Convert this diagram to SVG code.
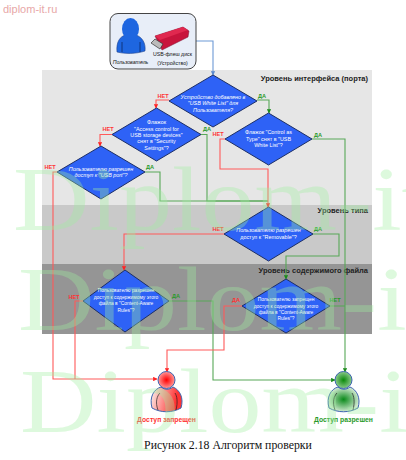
<svg xmlns="http://www.w3.org/2000/svg" width="406" height="460" viewBox="0 0 406 460">
<style>
text{font-family:"Liberation Sans",Arial,sans-serif}
.d{fill:#2e62f6;stroke:#1d2f66;stroke-width:1}
.t{fill:#fff;font-size:5.4px;text-anchor:middle}
.s{font-size:4.900px}
.i{font-style:italic}
.lvl{font-size:7.500px;font-weight:bold;fill:#222;text-anchor:end}
.r{fill:none;stroke:#ff5a5a;stroke-width:1.1}
.g{fill:none;stroke:#58a858;stroke-width:1.1}
.lr{fill:#f33;font-size:5.6px;text-anchor:middle;font-weight:bold}
.lg{fill:#2a9a2a;font-size:5.6px;text-anchor:middle;font-weight:bold}
.wm{font-family:"Liberation Serif",serif;font-size:106px;fill:#a0f0a0;opacity:.35}
</style>
<defs>
<marker id="ar" markerWidth="4" markerHeight="4" refX="3.5" refY="2" orient="auto"><path d="M0 0L4 2L0 4Z" fill="#f22"/></marker>
<marker id="ag" markerWidth="4" markerHeight="4" refX="3.5" refY="2" orient="auto"><path d="M0 0L4 2L0 4Z" fill="#1a8a1a"/></marker>
<marker id="ab" markerWidth="4" markerHeight="4" refX="3.5" refY="2" orient="auto"><path d="M0 0L4 2L0 4Z" fill="#5a8ad0"/></marker>
<radialGradient id="rh"><stop offset="0" stop-color="#f00"/><stop offset="1" stop-color="#ff9a9a"/></radialGradient>
<radialGradient id="gh"><stop offset="0" stop-color="#0a8a0a"/><stop offset="1" stop-color="#8cc98c"/></radialGradient>
<linearGradient id="rb" x1="1" y1="0.6" x2="0" y2="0.4"><stop offset="0.2" stop-color="#f33"/><stop offset="1" stop-color="#fbe4e0"/></linearGradient>
<radialGradient id="gb"><stop offset="0" stop-color="#0a8a1a"/><stop offset="1" stop-color="#cfe8cf"/></radialGradient>
</defs>
<rect x="42" y="70" width="330" height="135" fill="#e6e6e6"/>
<rect x="42" y="205" width="330" height="59" fill="#c9c9c9"/>
<rect x="42" y="264" width="330" height="70" fill="#959595"/>
<text class="lvl" x="368" y="81">Уровень интерфейса (порта)</text>
<text class="lvl" x="368" y="213">Уровень типа</text>
<text class="lvl" x="368" y="273">Уровень содержимого файла</text>
<g id="connectors">
<path d="M196 41H213V75" fill="none" stroke="#6d9ad6" stroke-width="1.1" marker-end="url(#ab)"/>
<path class="r" d="M169 100H156V108" marker-end="url(#ar)"/>
<path class="g" d="M257 100H269V113" marker-end="url(#ag)"/>
<path class="r" d="M112 134.500H100V146" marker-end="url(#ar)"/>
<path class="g" d="M201 134.500H207V201H268"/>
<path class="g" d="M145 172H160V201H268"/>
<path class="r" d="M57 172H53V379H157" marker-end="url(#ar)"/>
<path class="r" d="M225 139H220V169H268V207" marker-end="url(#ar)"/>
<path class="g" d="M312 139H345V372" marker-end="url(#ag)"/>
<path class="r" d="M224 234H124V270" marker-end="url(#ar)"/>
<path class="g" d="M313 234H339V256H286V279" marker-end="url(#ag)"/>
<path class="r" d="M83 301H75V379"/>
<path class="g" d="M169 301H213V380H335" marker-end="url(#ag)"/>
<path class="r" d="M242 306H224V350H167V372" marker-end="url(#ar)"/>
<path class="g" d="M330 306H345"/>
</g>
<g id="source">
<rect x="110" y="13.500" width="86" height="55.500" rx="8" fill="#e8eef8" stroke="#444" stroke-width="1"/>
<path d="M117 52C116 42 120 36 126 35C129 38 133 38 136 35C142 37 146 43 145 51C136 54 125 54 117 52Z" fill="#1e66e0" stroke="#1d3f8c" stroke-width=".6"/>
<ellipse cx="130.500" cy="29" rx="8.500" ry="11" fill="#1e66e0"/>
<path d="M122 52V42M140 52V42" stroke="#0b2a66" stroke-width=".8" fill="none"/>
<path d="M155 36L183 27L189 31L188 37L162 50Z" fill="#c8143c" stroke="#7a1030" stroke-width=".5"/>
<path d="M155 36L183 27L188 30L160 40Z" fill="#e0284f"/>
<path d="M151 43L155 39L163 44L160 49Z" fill="#bbb" stroke="#333" stroke-width=".7"/>
<text x="130.500" y="64" font-size="5.200" font-style="italic" text-anchor="middle" fill="#111">Пользователь</text>
<text x="172.500" y="56" font-size="5.200" text-anchor="middle" fill="#111">USB-флеш диск</text>
<text x="172.500" y="65" font-size="5.200" text-anchor="middle" fill="#111">(Устройство)</text>
</g>
<g id="d1"><path class="d" d="M213 75L257 101L213 127L169 101Z"/><text class="t i" x="213" y="99">Устройство добавлено в</text><text class="t i" x="213" y="105">"USB White List" для</text><text class="t i" x="213" y="112">Пользователя?</text></g>
<g id="d2"><path class="d" d="M156.500 108L201 134.500L156.500 161L112 134.500Z"/><text class="t" x="156.500" y="124">Флажок</text><text class="t" x="156.500" y="131">"Access control for</text><text class="t" x="156.500" y="137">USB storage devices"</text><text class="t" x="156.500" y="143">снят в "Security</text><text class="t" x="156.500" y="150">Settings"?</text></g>
<g id="d3"><path class="d" d="M101 146L145 172L101 199L57 172Z"/><text class="t i" x="101" y="171">Пользователю разрешен</text><text class="t i" x="101" y="177">доступ к "USB port"?</text></g>
<g id="d4"><path class="d" d="M268.500 113L312 139L268.500 165L225 139Z"/><text class="t" x="268.500" y="134">Флажок "Control as</text><text class="t" x="268.500" y="141">Type" снят в "USB</text><text class="t" x="268.500" y="147">White List"?</text></g>
<g id="d5"><path class="d" d="M268.500 207L313 234L268.500 261L224 234Z"/><text class="t i" x="268.500" y="232">Пользователю разрешен</text><text class="t" x="268.500" y="239">доступ к "Removable"?</text></g>
<g id="d6"><path class="d" d="M125 270L169 301L125 332L83 301Z"/><text class="t s" x="126" y="292">Пользователю разрешен</text><text class="t s" x="126" y="299">доступ к содержимому этого</text><text class="t s" x="126" y="305">файла в "Content-Aware</text><text class="t s" x="126" y="312">Rules"?</text></g>
<g id="d7"><path class="d" d="M286 279L330 306L286 333L242 306Z"/><text class="t s" x="286" y="301">Пользователю запрещен</text><text class="t s" x="286" y="308">доступ к содержимому этого</text><text class="t s" x="286" y="314">файла в "Content-Aware</text><text class="t s" x="286" y="320">Rules"?</text></g>
<g id="labels">
<text class="lr" x="163" y="98">НЕТ</text><text class="lg" x="262" y="98">ДА</text>
<text class="lr" x="108" y="131">НЕТ</text><text class="lg" x="207" y="131">ДА</text>
<text class="lr" x="50" y="169">НЕТ</text><text class="lg" x="150" y="169">ДА</text>
<text class="lr" x="218" y="136">НЕТ</text><text class="lg" x="318" y="137">ДА</text>
<text class="lr" x="218" y="231">НЕТ</text><text class="lg" x="318" y="231">ДА</text>
<text class="lr" x="74" y="299">НЕТ</text><text class="lg" x="176" y="298">ДА</text>
<text class="lr" x="236" y="302">ДА</text><text class="lg" x="335" y="302">НЕТ</text>
</g>
<g id="denied">
<path d="M152 408C149 397 154 389 161 387C165 390 169 390 173 387C180 390 184 398 181 408C172 413 161 413 152 408Z" fill="url(#rb)" stroke="#3d64b0" stroke-width="1"/>
<circle cx="166.500" cy="380" r="8.500" fill="url(#rh)" stroke="#3d64b0" stroke-width="1"/>
<path d="M158 410C155 402 157 396 160 393M176 410C178 402 177 396 175 393" fill="none" stroke="#222" stroke-width=".7"/>
<text x="166.500" y="422" font-size="6.800" text-anchor="middle" fill="#f33" font-weight="bold">Доступ запрещен</text>
</g>
<g id="allowed">
<path d="M329 408C326 397 331 389 338 387C342 390 346 390 350 387C357 390 361 398 358 408C349 413 338 413 329 408Z" fill="url(#gb)" stroke="#3d64b0" stroke-width="1"/>
<circle cx="343.500" cy="380" r="8.500" fill="url(#gh)" stroke="#3d64b0" stroke-width="1"/>
<path d="M335 410C332 402 334 396 337 393M353 410C355 402 354 396 352 393" fill="none" stroke="#222" stroke-width=".7"/>
<text x="343.500" y="422" font-size="6.800" text-anchor="middle" fill="#2a9a2a" font-weight="bold">Доступ разрешен</text>
</g>
<text x="3" y="13" font-size="11" fill="#e8a8a8">diplom-it.ru</text>
<text x="228" y="449" font-size="11.800" text-anchor="middle" style="font-family:'Liberation Serif',serif" fill="#111">Рисунок 2.18 Алгоритм проверки</text>
<g id="watermark">
<text class="wm" transform="translate(13 230) scale(1 .86)">Diplom-it</text>
<text class="wm" transform="translate(18 330) scale(1 .86)">Diplom-it</text>
<text class="wm" transform="translate(20 432) scale(1 .86)">Diplom-it</text>
</g>
</svg>
